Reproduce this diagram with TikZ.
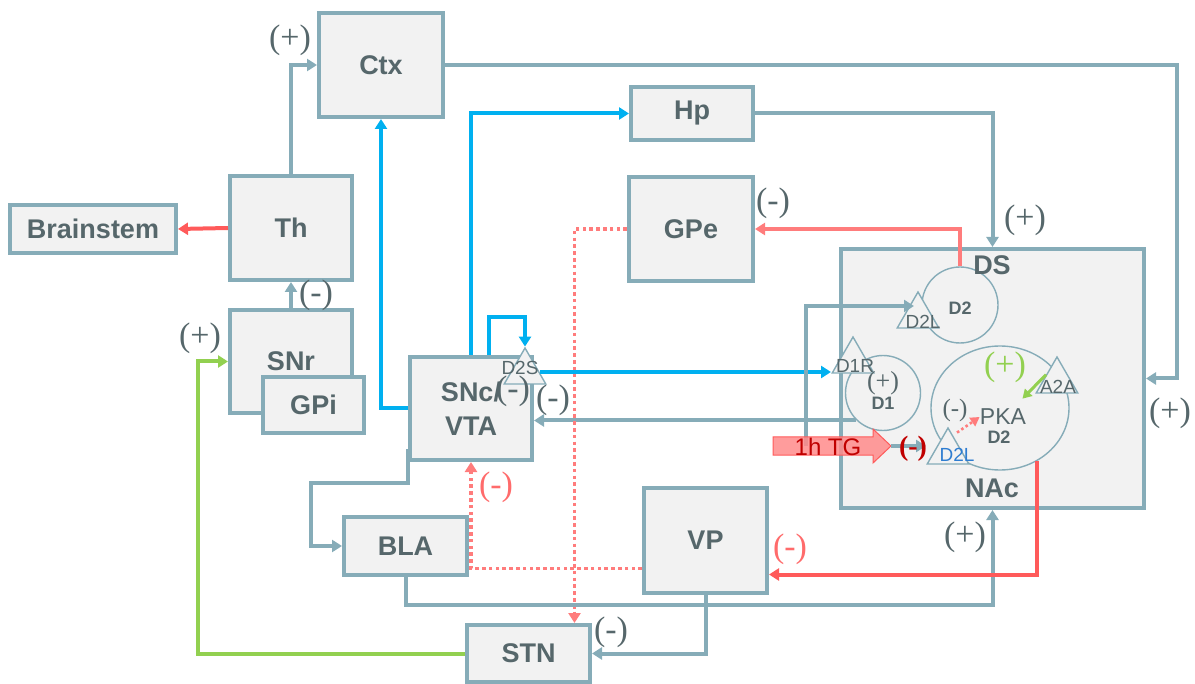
\documentclass[tikz,border=0pt]{standalone}
\usepackage{fontspec}
\setmainfont{Liberation Serif}
\setsansfont{Liberation Sans}
\usetikzlibrary{arrows.meta,shapes.geometric}
\definecolor{boxline}{HTML}{86ACB8}
\definecolor{boxfill}{HTML}{F2F2F2}
\definecolor{labeltext}{HTML}{56676B}
\definecolor{dopa}{HTML}{00B0F0}
\definecolor{inhib}{HTML}{FF5A5A}
\definecolor{inhiblight}{HTML}{FF7C7C}
\definecolor{excite}{HTML}{92D050}
\definecolor{darkinhib}{HTML}{C00000}
\definecolor{d2lblue}{HTML}{2E7DD1}
\tikzstyle{region}=[draw=boxline, fill=boxfill, line width=2pt, text=labeltext, font=\sffamily\bfseries\fontsize{13.5}{15}\selectfont, align=center, inner sep=0pt]
\tikzstyle{cell}=[circle, draw=boxline, fill=boxfill, line width=0.7pt, inner sep=0pt]
\tikzstyle{receptor}=[regular polygon, regular polygon sides=3, draw=boxline, fill=boxfill, line width=0.7pt, minimum size=24pt, inner sep=0pt]
\tikzstyle{sign}=[text=labeltext, font=\fontsize{17}{17}\selectfont, inner sep=0pt]
\tikzstyle{tag}=[text=labeltext, font=\sffamily\fontsize{9.5}{10}\selectfont, inner sep=0pt]
\tikzstyle{cellname}=[text=labeltext, font=\sffamily\bfseries\fontsize{9}{10}\selectfont, inner sep=0pt]
\tikzstyle{link}=[draw=boxline, line width=2pt, -{Triangle[length=5pt,width=6pt]}]
\tikzstyle{dopalink}=[link, draw=dopa]
\tikzstyle{inhiblink}=[link, draw=inhib]
\tikzstyle{inhiblightlink}=[link, draw=inhiblight]
\tikzstyle{excitelink}=[link, draw=excite]
\tikzstyle{inhibdotted}=[link, draw=inhiblight, line width=1.8pt, dash pattern=on 1.8pt off 1.6pt]

\begin{document}
\begin{tikzpicture}[x=0.5pt,y=-0.5pt]
\useasboundingbox (0,0) rectangle (1195,684);

\node[region, minimum width=151.5pt, minimum height=129.5pt] (str) at (992.5,378.5) {};
\node[region, minimum width=62pt, minimum height=52pt] (ctx) at (381,65) {Ctx};
\node[region, minimum width=83pt, minimum height=24pt] (brainstem) at (93,229) {Brainstem};
\node[region, minimum width=61pt, minimum height=52pt] (th) at (291,228) {Th};
\node[region, minimum width=61pt, minimum height=51.5pt] (snr) at (291,361.5) {SNr};
\node[region, minimum width=50.5pt, minimum height=28pt] (gpi) at (313.5,405) {GPi};
\node[region, minimum width=61pt, minimum height=51.5pt] (snc) at (471,408.5) {SNc/\\[2pt]VTA};
\node[region, minimum width=61.5pt, minimum height=29pt] (bla) at (405.5,546) {BLA};
\node[region, minimum width=61.5pt, minimum height=52.5pt] (vp) at (705.5,540.5) {VP};
\node[region, minimum width=61.5pt, minimum height=28.5pt] (stn) at (528.5,653.5) {STN};
\node[region, minimum width=61pt, minimum height=26.5pt] (hp) at (692,113.5) {Hp};
\node[region, minimum width=62pt, minimum height=52pt] (gpe) at (691,229) {GPe};

\node[cell, minimum size=38pt] (d2ds) at (960,305) {};
\node[cell, minimum size=37.5pt] (d1) at (883,393) {};
\node[cell, ellipse, minimum width=69pt, minimum height=62pt] (d2nac) at (1000,408) {};

\node[receptor] (d2lds) at (918,316) {};
\node[receptor] (d1r) at (853,361) {};
\node[receptor] (a2a) at (1057,381) {};
\node[receptor] (d2lnac) at (948,452) {};
\node[receptor] (d2s) at (525,372) {};

\coordinate (tgbase) at (806,446);
\coordinate (tgtip) at (891,446);

\draw[link] (th.north) |- (ctx.west);
\draw[inhiblink] (th.west) -- (brainstem.east);
\draw[link] (snr.north) -- (th.south);
\draw[excitelink] (stn.west) -| ([xshift=-15pt]snr.west) -- (snr.west);
\draw[dopalink] (snc.west) -| (ctx.south);
\draw[dopalink] (snc.north) |- (hp.west);
\draw[dopalink] ([xshift=9pt]snc.north) -- ++(0,-38) -| (d2s.north);
\draw[dopalink] (d2s.east) -- (d2s.east -| d1r.corner 2);
\draw[link] (d1.226) -- (d1.226 -| snc.east);
\draw[link] (ctx.east) -| ([xshift=15.5pt]str.east) -- (str.east);
\draw[link] (hp.east) -| (str.north);
\draw[inhiblightlink] (d2ds.north) |- (gpe.east);
\draw[inhibdotted] (gpe.west) -| ([xshift=23pt]stn.north);
\draw[inhibdotted] ([yshift=-14pt]vp.west) -| (snc.south);
\draw[link] ([yshift=-20pt]snc.west) -- ++(0,34) -| ([xshift=-15.5pt]bla.west) -- (bla.west);
\draw[link] (bla.south) -- ++(0,28) -| (str.south);
\draw[link] (vp.south) |- (stn.east);
\draw[inhiblink] (d2nac.-55) |- ([yshift=-17pt]vp.east);
\draw[link] (tgbase) |- ([xshift=-2pt,yshift=5pt]d2lds.center);

\filldraw[draw=inhib, fill=inhib!70, line width=0.5pt, fill opacity=0.85] (773,437) -- (873,437) -- (873,429) -- (891,446) -- (873,463) -- (873,455) -- (773,455) -- cycle;
\node[text=darkinhib, font=\sffamily\fontsize{12}{12}\selectfont, inner sep=0pt] (tg) at (828,447) {1h TG};
\draw[link] (tgtip) -- (tgtip -| d2lnac.corner 2);

\node[text=labeltext, font=\sffamily\fontsize{11.5}{11.5}\selectfont, inner sep=0pt] (pka) at (1003,417) {PKA};
\draw[excitelink, line width=1.5pt, -{Triangle[length=4.5pt,width=5pt]}] (a2a.side 1) -- ([shift={(-2pt,5pt)}]pka.north east);
\draw[inhibdotted, line width=1.3pt, dash pattern=on 1.3pt off 1.3pt, -{Triangle[length=4.5pt,width=5pt]}] ([shift={(4.5pt,-3pt)}]d2lnac.north) -- (pka.west);

\node[region, draw=none, fill=none] (dstext) at (992,265) {DS};
\node[region, draw=none, fill=none] (nactext) at (992,488) {NAc};
\node[cellname] (d2dstext) at (960,308) {D2};
\node[cellname] (d1text) at (883,403) {D1};
\node[cellname] (d2nactext) at (999,437) {D2};
\node[tag] (d2ldstext) at (923,322) {D2L};
\node[tag] (d1rtext) at (855,366) {D1R};
\node[tag] (a2atext) at (1058,387) {A2A};
\node[tag, text=d2lblue] (d2lnactext) at (957,455) {D2L};
\node[tag] (d2stext) at (520,368) {D2S};

\node[sign] (thctx) at (290,40) {(+)};
\node[sign] (snrth) at (316,295) {(-)};
\node[sign] (stnsnr) at (200,338) {(+)};
\node[sign] (d2ssnc) at (513,391) {(-)};
\node[sign] (d1snc) at (553,400) {(-)};
\node[sign, text=inhib!90] (vpsnc) at (496,487) {(-)};
\node[sign, text=inhib!90] (nacvp) at (790,549) {(-)};
\node[sign] (blanac) at (965,537) {(+)};
\node[sign] (vpstn) at (611,632) {(-)};
\node[sign] (dsgpe) at (773,203) {(-)};
\node[sign] (hpds) at (1025,220) {(+)};
\node[sign] (ctxstr) at (1170,413) {(+)};
\node[sign, font=\fontsize{13}{13}\selectfont] (d1plus) at (883,383) {(+)};
\node[sign, text=excite] (a2aplus) at (1005,367) {(+)};
\node[sign, font=\fontsize{12.5}{12.5}\selectfont] (pkaminus) at (955,410) {(-)};
\node[sign, text=darkinhib, font=\bfseries\fontsize{14}{14}\selectfont] (tgminus) at (913,449) {(-)};
\end{tikzpicture}
\end{document}
